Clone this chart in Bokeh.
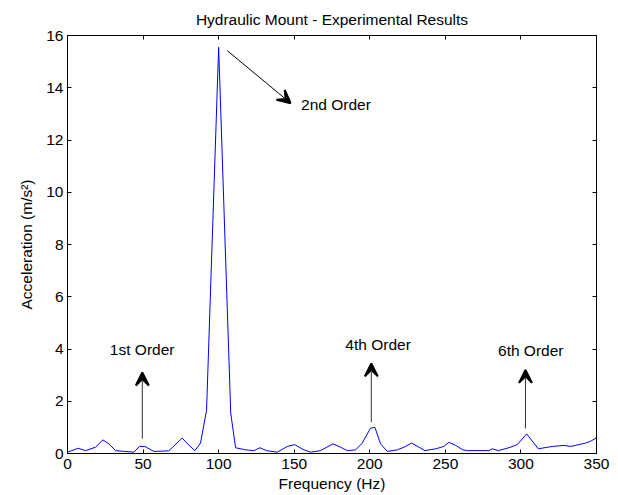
from bokeh.plotting import figure
from bokeh.models import Range1d, LinearAxis, Arrow, VeeHead, Label, FixedTicker, Title
from bokeh.embed import file_html
from bokeh.resources import INLINE

freq = [0, 7.1, 11.9, 18.5, 23.4, 27.4, 31.8, 43.9, 47.6, 51.2, 57.1, 67, 75.9, 79.9,
        84.3, 88, 92, 100, 108, 111.2, 117.8, 123.3, 127.3, 131.7, 138.8, 145.4, 150.4,
        155.3, 160.8, 167.4, 175.6, 180.7, 185.1, 190.6, 195, 200.5, 203.4, 207.1, 211.6,
        218.2, 222.6, 227.7, 232.6, 236.5, 243.6, 249, 252.3, 256.8, 261.6, 264.5, 278.8,
        281, 285, 292, 297.6, 303.8, 311.5, 320.8, 328.5, 332.9, 342.8, 346.1, 350]
accel = [0.05, 0.2, 0.11, 0.24, 0.52, 0.37, 0.11, 0.05, 0.27, 0.27, 0.08, 0.1, 0.59, 0.34,
         0.11, 0.4, 1.65, 15.55, 1.55, 0.22, 0.14, 0.11, 0.22, 0.11, 0.05, 0.27, 0.34,
         0.17, 0.05, 0.11, 0.37, 0.24, 0.11, 0.14, 0.4, 0.97, 1.0, 0.37, 0.08,
         0.14, 0.24, 0.4, 0.24, 0.11, 0.18, 0.27, 0.43, 0.31, 0.14, 0.11, 0.11,
         0.18, 0.11, 0.22, 0.34, 0.75, 0.18, 0.27, 0.31, 0.27, 0.4, 0.47, 0.6]

x_ticks = [0, 50, 100, 150, 200, 250, 300, 350]
y_ticks = [0, 2, 4, 6, 8, 10, 12, 14, 16]

title_text = "Hydraulic Mount - Experimental Results"

order_labels = ["1st Order", "4th Order", "6th Order"]
order_text_x = [49.4, 205.5, 306.5]
order_text_y = [3.98, 4.17, 3.94]
order_arrow_x = [49.5, 201, 303]
order_arrow_y0 = [0.57, 1.2, 0.96]
order_arrow_y1 = [3.1, 3.45, 3.2]

second_label = "2nd Order"
second_text = (154.5, 13.36)
second_arrow = (105.7, 15.42, 147.6, 13.41)

FONT = "Liberation Sans"
FS = "15.5px"

p = figure(width=618, height=495, output_backend="svg", toolbar_location=None,
           x_range=Range1d(0, 350), y_range=Range1d(0, 16),
           min_border_left=67, min_border_right=22, min_border_top=35, min_border_bottom=42)
p.title = Title(text=title_text, align="center", vertical_align="top",
                text_font=FONT, text_font_size=FS,
                text_font_style="normal", text_color="#000000", standoff=12)
p.grid.visible = False
p.outline_line_color = "#000000"
p.background_fill_color = "white"
p.border_fill_color = "white"

p.line(freq, accel, line_color="#0000ff", line_width=1)

for ax in (p.xaxis[0], p.yaxis[0]):
    ax.major_tick_in = 4
    ax.major_tick_out = 0
    ax.minor_tick_line_color = None
    ax.axis_line_color = "#000000"
    ax.major_label_text_font = FONT
    ax.major_label_text_font_size = FS
    ax.major_label_text_color = "#000000"
    ax.axis_label_text_font = FONT
    ax.axis_label_text_font_size = FS
    ax.axis_label_text_font_style = "normal"
    ax.axis_label_text_color = "#000000"
p.xaxis[0].ticker = FixedTicker(ticks=x_ticks)
p.yaxis[0].ticker = FixedTicker(ticks=y_ticks)
p.xaxis[0].axis_label = "Frequency (Hz)"
p.yaxis[0].axis_label = "Acceleration (m/s²)"
p.xaxis[0].major_label_standoff = 5
p.xaxis[0].axis_label_standoff = 3
p.yaxis[0].major_label_standoff = 4
p.yaxis[0].axis_label_standoff = 8

top = LinearAxis(ticker=FixedTicker(ticks=x_ticks),
                 major_label_overrides={t: "" for t in x_ticks},
                 major_label_standoff=0, axis_label_standoff=0,
                 major_tick_in=4, major_tick_out=0, minor_tick_line_color=None,
                 axis_line_color="#000000")
right = LinearAxis(ticker=FixedTicker(ticks=y_ticks),
                   major_label_overrides={t: "" for t in y_ticks},
                   major_label_standoff=0, axis_label_standoff=0,
                   major_tick_in=4, major_tick_out=0, minor_tick_line_color=None,
                   axis_line_color="#000000")
p.add_layout(top, "above")
p.add_layout(right, "right")

for lab, tx, ty, ax_, y0, y1 in zip(order_labels, order_text_x, order_text_y,
                                   order_arrow_x, order_arrow_y0, order_arrow_y1):
    p.add_layout(Arrow(x_start=ax_, y_start=y0, x_end=ax_, y_end=y1,
                       line_color="#333333", line_width=1,
                       end=VeeHead(size=13, fill_color="black", line_color="black", line_width=2)))
    p.add_layout(Label(x=tx, y=ty, text=lab, text_align="center", text_baseline="middle",
                       text_font=FONT, text_font_size=FS, text_color="#000000"))

p.add_layout(Arrow(x_start=second_arrow[0], y_start=second_arrow[1],
                   x_end=second_arrow[2], y_end=second_arrow[3],
                   line_color="#000000", line_width=1,
                   end=VeeHead(size=13, fill_color="black", line_color="black", line_width=2)))
p.add_layout(Label(x=second_text[0], y=second_text[1], text=second_label,
                   text_align="left", text_baseline="middle",
                   text_font=FONT, text_font_size=FS, text_color="#000000"))

open("out.html", "w").write(file_html(p, INLINE))
